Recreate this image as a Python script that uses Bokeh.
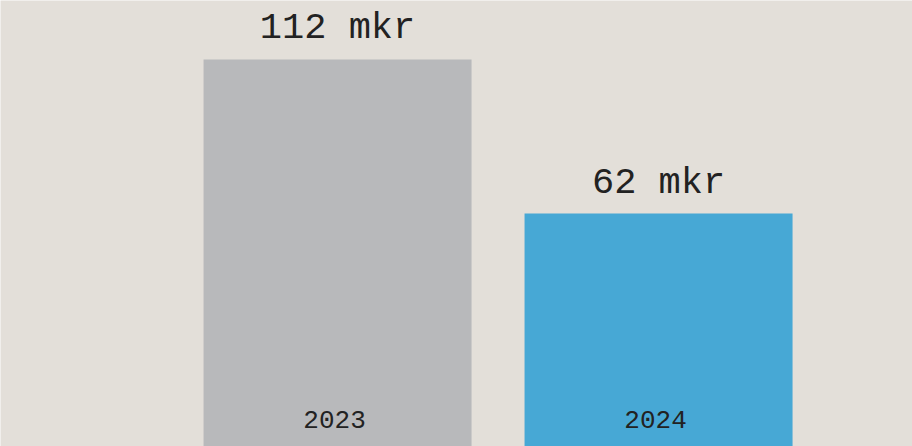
from bokeh.plotting import figure
from bokeh.models import ColumnDataSource, Range1d
from bokeh.core.properties import value
from bokeh.embed import file_html
from bokeh.resources import INLINE

years = [2023, 2024]
year_labels = ["2023", "2024"]
amounts = [112, 62]
unit = "mkr"
colors = ["#b8b9bb", "#47a8d5"]

src = ColumnDataSource(dict(
    x=years,
    top=amounts,
    color=colors,
    label=[f"{a} {unit}" for a in amounts],
    year=year_labels,
    zero=[0] * len(years),
))

W, H = 912, 446
FONT = "Liberation Mono"
p = figure(width=W, height=H, output_backend="svg", toolbar_location=None,
           x_range=Range1d(2023 - 1.05, 2023 - 1.05 + W / 321.0),
           y_range=Range1d(-13.63, 131.15),
           min_border=0, min_border_left=0, min_border_right=0,
           min_border_top=0, min_border_bottom=0)
p.background_fill_color = "#e3dfd9"
p.border_fill_color = "#e3dfd9"
p.outline_line_color = None
p.axis.visible = False
p.grid.visible = False

p.vbar(x="x", top="top", bottom=-30, width=268 / 321.0, fill_color="color",
       line_color=None, source=src)

p.text(x="x", y="top", text="label", source=src, y_offset=-31,
       text_align="center", text_baseline="alphabetic",
       text_font=value(FONT), text_font_size="37px",
       text_color="#222222")

p.text(x="x", y="zero", text="year", source=src, y_offset=15, x_offset=-3,
       text_align="center", text_baseline="alphabetic",
       text_font=value(FONT), text_font_size="26px",
       text_color="#222222")

open("out.html", "w").write(file_html(p, INLINE))
